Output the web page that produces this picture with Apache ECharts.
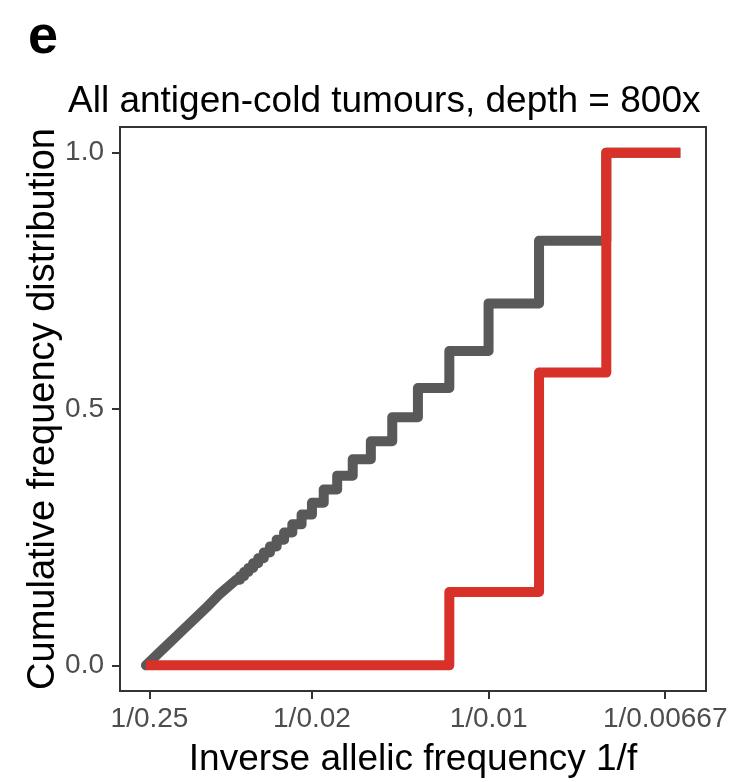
<!DOCTYPE html>
<html>
<head>
<meta charset="utf-8">
<script src="https://cdn.jsdelivr.net/npm/echarts@6/dist/echarts.min.js"></script>
<style>
html,body{margin:0;padding:0;background:#fff;}
#chart{width:732px;height:782px;}
</style>
</head>
<body>
<div id="chart"></div>
<script>
// ---- data (x = inverse allelic frequency 1/f, y = cumulative frequency) ----
const panelLabel = 'e';
const chartTitle = 'All antigen-cold tumours, depth = 800x';
const xTitle = 'Inverse allelic frequency 1/f';
const yTitle = 'Cumulative frequency distribution';

const xTickValues = [4, 50, 100, 150];
const xTickLabels = ['1/0.25', '1/0.02', '1/0.01', '1/0.00667'];
const yTickValues = [0, 0.5, 1.0];

// grey: all mutations. Dense low part (steps too small to see) ...
const greyLowX = [3.0, 8.0, 13.3, 20.0, 24.0, 28.57];
const greyLowY = [0.0, 0.033, 0.068, 0.112, 0.140, 0.167];
// ... and the visible ECDF steps at 1/f
const greyStepX = [28.57, 29.63, 30.77, 32.0, 33.33, 34.78, 36.36, 38.10, 40.0, 42.11, 44.44, 47.06, 50.0, 53.33, 57.14, 61.54, 66.67, 72.73, 80.0, 88.89, 100.0, 114.29, 133.33, 154.3];
const greyStepY = [0.167, 0.174, 0.182, 0.190, 0.199, 0.209, 0.220, 0.232, 0.245, 0.259, 0.275, 0.294, 0.317, 0.343, 0.370, 0.402, 0.437, 0.484, 0.541, 0.613, 0.706, 0.828, 1.0, 1.0];

// red: antigen-cold subset
const redX = [3.0, 88.89, 114.29, 133.33, 154.3];
const redY = [0.0, 0.143, 0.571, 1.0, 1.0];

// ---- chart ----
const pair = (xs, ys) => xs.map((x, i) => [x, ys[i]]);
const FONT = '"Liberation Sans", Arial, Helvetica, sans-serif';
const GREY = '#595959', RED = '#D7312A';
const chart = echarts.init(document.getElementById('chart'), null, {renderer: 'canvas'});

chart.setOption({
  backgroundColor: '#ffffff',
  animation: false,
  grid: {left: 120, right: 26, top: 127, bottom: 91, show: true, borderColor: '#333333', borderWidth: 2, backgroundColor: 'transparent'},
  xAxis: {
    type: 'value', min: -4.35, max: 161.56,
    axisLine: {show: false, onZero: false},
    splitLine: {show: false},
    axisTick: {show: true, inside: false, customValues: xTickValues, length: 8, lineStyle: {color: '#333333', width: 2}},
    axisLabel: {
      customValues: xTickValues, margin: 14, color: '#4D4D4D', fontSize: 28, fontFamily: FONT,
      formatter: v => { const i = xTickValues.indexOf(v); return i >= 0 ? xTickLabels[i] : ''; }
    }
  },
  yAxis: {
    type: 'value', min: -0.05, max: 1.05,
    axisLine: {show: false, onZero: false},
    splitLine: {show: false},
    axisTick: {show: true, inside: false, customValues: yTickValues, length: 8, lineStyle: {color: '#333333', width: 2}},
    axisLabel: {
      customValues: yTickValues, margin: 16, color: '#4D4D4D', fontSize: 28, fontFamily: FONT,
      formatter: v => v.toFixed(1)
    }
  },
  series: [
    {
      type: 'line', data: pair(greyLowX, greyLowY), showSymbol: false, symbol: 'none',
      lineStyle: {color: GREY, width: 10, cap: 'round', join: 'round'}, z: 2
    },
    {
      type: 'line', data: pair(greyStepX, greyStepY), step: 'end', showSymbol: false, symbol: 'none',
      lineStyle: {color: GREY, width: 10, cap: 'butt', join: 'round'}, z: 2
    },
    {
      type: 'line', data: pair(redX, redY), step: 'end', showSymbol: false, symbol: 'none',
      lineStyle: {color: RED, width: 10, cap: 'butt', join: 'round'}, z: 3
    }
  ],
  graphic: [
    {type: 'text', x: 28, y: 38, style: {text: panelLabel, font: 'bold 54px ' + FONT, fill: '#000', textAlign: 'left', textVerticalAlign: 'middle'}},
    {type: 'text', x: 68, y: 102, style: {text: chartTitle, font: '37px ' + FONT, fill: '#000', textAlign: 'left', textVerticalAlign: 'middle'}},
    {type: 'text', x: 413, y: 760, style: {text: xTitle, font: '37px ' + FONT, fill: '#000', textAlign: 'center', textVerticalAlign: 'middle'}},
    {type: 'text', x: 44, y: 409, rotation: Math.PI / 2, style: {text: yTitle, font: '38px ' + FONT, fill: '#000', textAlign: 'center', textVerticalAlign: 'middle'}}
  ]
});
</script>
</body>
</html>
